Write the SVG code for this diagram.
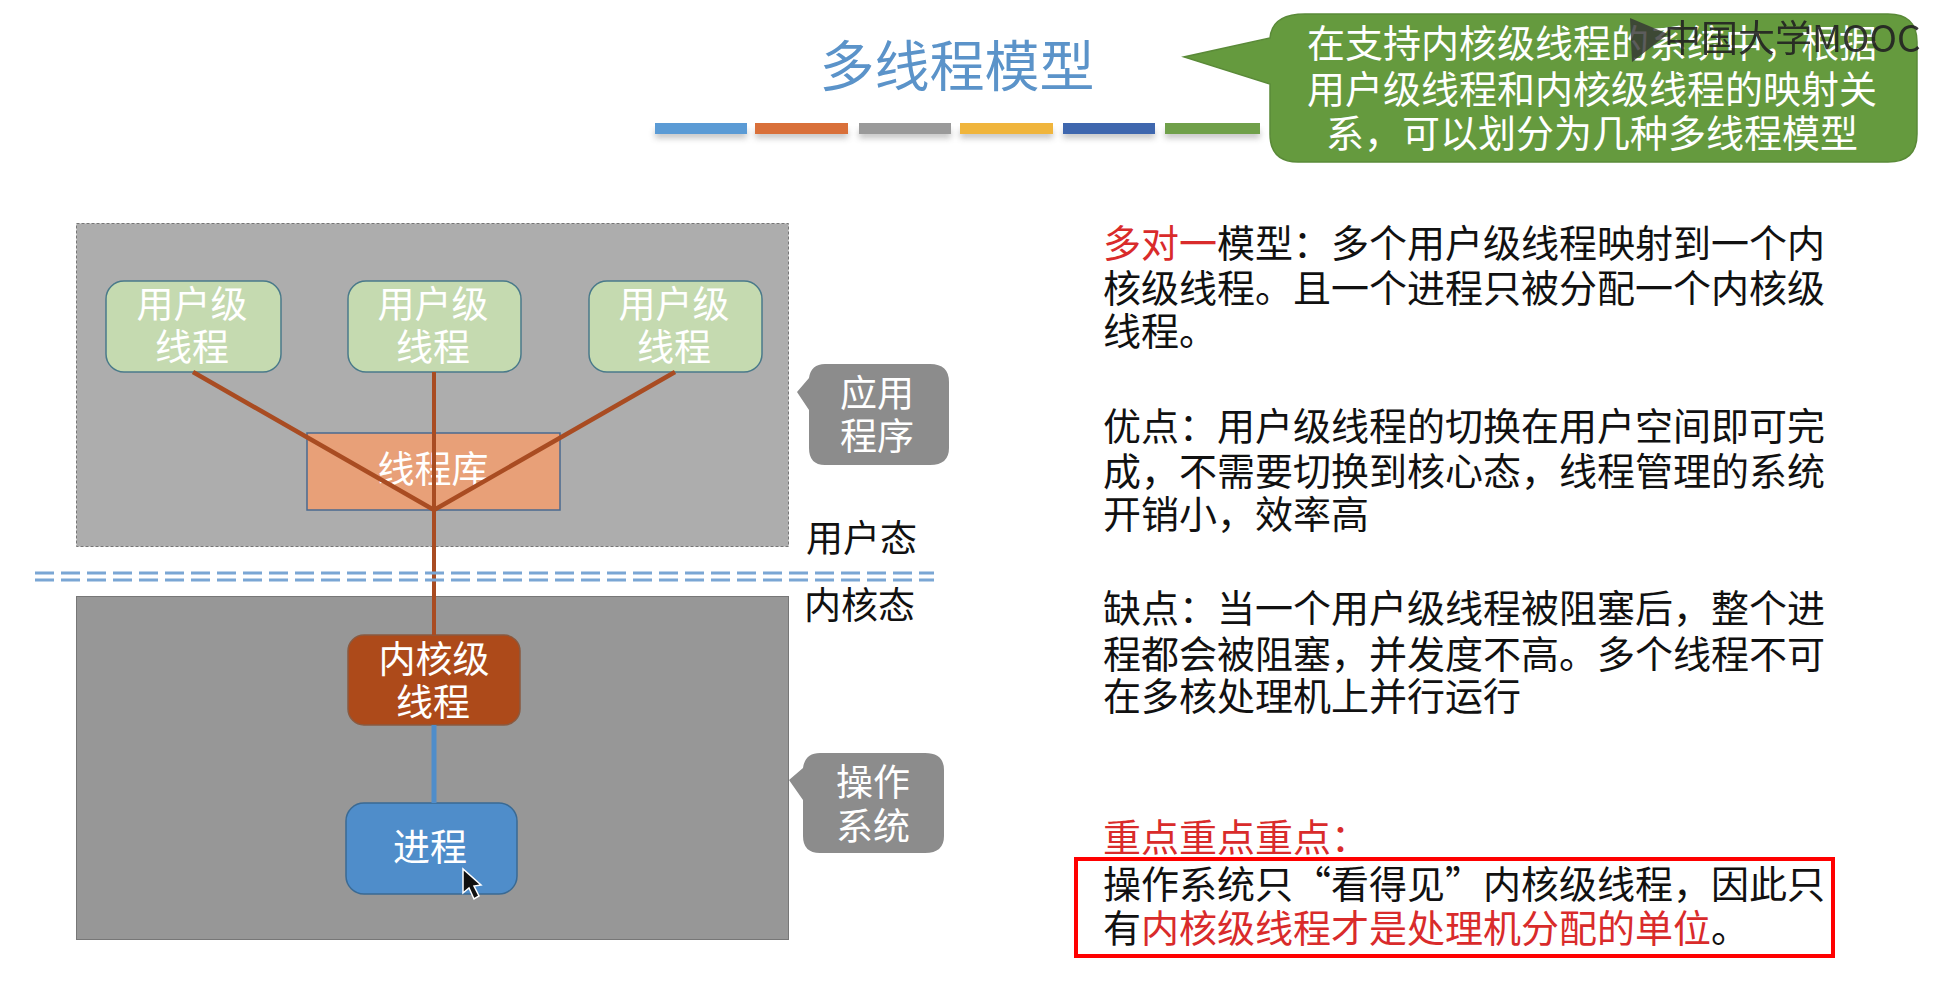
<svg xmlns="http://www.w3.org/2000/svg" width="1948" height="984" viewBox="0 0 1948 984">
<defs>
<filter id="soft" x="-10%" y="-50%" width="120%" height="250%"><feGaussianBlur stdDeviation="3"/></filter>
</defs>
<style>
text{font-family:"Noto Sans CJK SC","Liberation Sans",sans-serif;}
.n{font-size:37px;fill:#fff;text-anchor:middle;}
.b{font-size:38px;fill:#111;}
.r{fill:#d92b2b;}
.u{fill:#c5dab0;stroke:#4a7a8a;stroke-width:1.5;}
.g{fill:#8c8c8c;}
</style>
<rect width="1948" height="984" fill="#fff"/>
<g id="title"><text x="957" y="86" font-size="55" fill="#5b93c9" text-anchor="middle">多线程模型</text></g>
<g id="title-bars">
<g filter="url(#soft)" opacity=".45"><rect x="655" y="130" width="92" height="8" fill="#777"/><rect x="755" y="130" width="93" height="8" fill="#777"/><rect x="859" y="130" width="92" height="8" fill="#777"/><rect x="960" y="130" width="93" height="8" fill="#777"/><rect x="1063" y="130" width="92" height="8" fill="#777"/><rect x="1165" y="130" width="95" height="8" fill="#777"/></g>
<rect x="655" y="123" width="92" height="11" fill="#5b9bd5"/><rect x="755" y="123" width="93" height="11" fill="#d9703a"/><rect x="859" y="123" width="92" height="11" fill="#9a9a9a"/><rect x="960" y="123" width="93" height="11" fill="#f0b53c"/><rect x="1063" y="123" width="92" height="11" fill="#3f67ae"/><rect x="1165" y="123" width="95" height="11" fill="#70a04a"/>
</g>
<g id="callout-top">
<path d="M1305 14H1888Q1917 14 1917 42V134Q1917 162 1888 162H1298Q1270 162 1270 134V84L1184 57L1270 38Q1272 14 1305 14Z" fill="#659a3e" stroke="#5a8a38" stroke-width="1.5"/>
<g font-size="38" fill="#fff" text-anchor="middle"><text x="1592" y="57">在支持内核级线程的系统中，根据</text><text x="1592" y="103">用户级线程和内核级线程的映射关</text><text x="1592" y="147">系，可以划分为几种多线程模型</text></g>
</g>
<g id="watermark"><path d="M1630 18L1668 34L1632 62Z" fill="#333" opacity=".8"/><text x="1664" y="52" font-size="37" fill="#222" opacity=".9">中国大学MOOC</text></g>
<g id="app-area"><rect x="76.500" y="223.500" width="712" height="323" fill="#adadad" stroke="#777" stroke-width="1" stroke-dasharray="3 2"/></g>
<g id="kernel-area"><rect x="76.500" y="596.500" width="712" height="343" fill="#979797" stroke="#777" stroke-width="1"/></g>
<g id="thread-u1"><rect class="u" x="106" y="281" width="175" height="91" rx="18"/><text class="n" x="192" y="318">用户级</text><text class="n" x="192" y="361">线程</text></g>
<g id="thread-u2"><rect class="u" x="348" y="281" width="173" height="91" rx="18"/><text class="n" x="433" y="318">用户级</text><text class="n" x="433" y="361">线程</text></g>
<g id="thread-u3"><rect class="u" x="589" y="281" width="173" height="91" rx="18"/><text class="n" x="674" y="318">用户级</text><text class="n" x="674" y="361">线程</text></g>
<g id="library"><rect x="307" y="433" width="253" height="77" fill="#e8a078" stroke="#4a6a90" stroke-width="1.5"/><text class="n" x="433" y="483">线程库</text></g>
<g id="kernel-thread"><rect x="348" y="635" width="172" height="90" rx="16" fill="#ad4a1a" stroke="#8a5a40" stroke-width="1.500"/><text class="n" x="434" y="673">内核级</text><text class="n" x="433" y="716">线程</text></g>
<g id="process"><rect x="346" y="803" width="171" height="91" rx="18" fill="#4f8dca" stroke="#3a6a94" stroke-width="1.500"/><text class="n" x="430" y="861">进程</text></g>
<g id="connectors" fill="none">
<g stroke="#a94c22"><path d="M193 372L434 510L675 372" stroke-width="4.500"/><path d="M434 372V635" stroke-width="4"/></g>
<path d="M434 725V803" stroke="#4f8dca" stroke-width="5"/>
</g>
<g id="boundary" stroke="#7aa6d4" stroke-width="3" stroke-dasharray="19 7"><path d="M35 573H934"/><path d="M35 580H934"/></g>
<g id="state-labels" font-size="37" fill="#111"><text x="806" y="552">用户态</text><text x="804" y="619">内核态</text></g>
<g id="callout-app"><path d="M825 364H930Q949 364 949 382V448Q949 465 930 465H825Q809 465 809 448V410L797 392L809 378Q811 364 825 364Z" class="g"/><text class="n" x="877" y="407">应用</text><text class="n" x="877" y="450">程序</text></g>
<g id="callout-os"><path d="M820 753H925Q944 753 944 770V836Q944 853 925 853H820Q803 853 803 836V800L789 780L803 768Q805 753 820 753Z" class="g"/><text class="n" x="873" y="796">操作</text><text class="n" x="873" y="840">系统</text></g>
<g id="text-many-to-one"><text class="b" x="1103" y="257"><tspan class="r">多对一</tspan>模型：多个用户级线程映射到一个内</text><text class="b" x="1103" y="302">核级线程。且一个进程只被分配一个内核级</text><text class="b" x="1103" y="345">线程。</text></g>
<g id="text-pros"><text class="b" x="1103" y="440">优点：用户级线程的切换在用户空间即可完</text><text class="b" x="1103" y="485">成，不需要切换到核心态，线程管理的系统</text><text class="b" x="1103" y="528">开销小，效率高</text></g>
<g id="text-cons"><text class="b" x="1103" y="622">缺点：当一个用户级线程被阻塞后，整个进</text><text class="b" x="1103" y="668">程都会被阻塞，并发度不高。多个线程不可</text><text class="b" x="1103" y="710">在多核处理机上并行运行</text></g>
<g id="text-key"><text class="b" x="1103" y="851" style="fill:#d92b2b">重点重点重点：</text><rect x="1076" y="859" width="757" height="97" fill="none" stroke="#f00" stroke-width="4"/><text class="b" x="1103" y="898">操作系统只“看得见”内核级线程，因此只</text><text class="b" x="1103" y="942">有<tspan class="r">内核级线程才是处理机分配的单位</tspan>。</text></g>
<g id="cursor"><path d="M463 869L463 893L469 888L474 899L479 896L474 886L481 885Z" fill="#111" stroke="#fff" stroke-width="1.500"/></g>
</svg>
